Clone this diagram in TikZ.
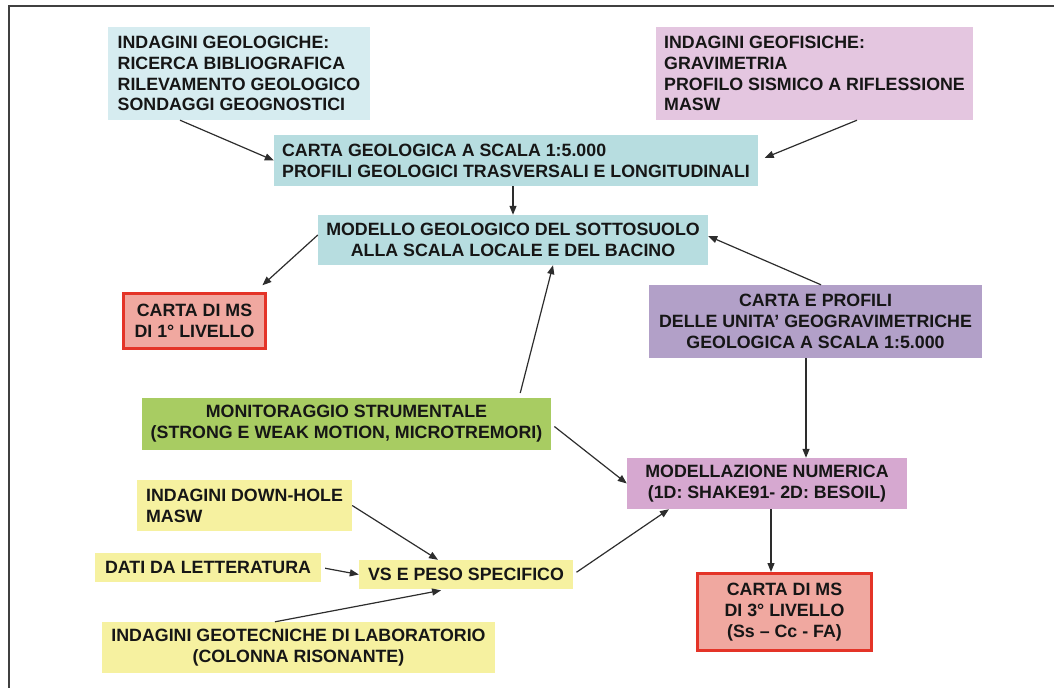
\documentclass[tikz,border=0pt]{standalone}
\usepackage{fontspec}
\setmainfont{Liberation Sans}
\definecolor{geoblue}{RGB}{214, 236, 240}
\definecolor{mapblue}{RGB}{183, 221, 224}
\definecolor{geopink}{RGB}{228, 198, 224}
\definecolor{profpurple}{RGB}{178, 160, 200}
\definecolor{numpink}{RGB}{214, 168, 208}
\definecolor{monigreen}{RGB}{168, 204, 98}
\definecolor{dataylw}{RGB}{246, 241, 160}
\definecolor{msfill}{RGB}{240, 168, 160}
\definecolor{msred}{RGB}{228, 52, 40}
\definecolor{inktext}{RGB}{22, 22, 22}
\definecolor{linkgray}{RGB}{45, 45, 45}
\usetikzlibrary{arrows.meta}

\begin{document}
\begin{tikzpicture}[x=1pt, y=-1pt,
  box/.style={inner xsep=0pt, inner ysep=2pt, text=inktext, font=\fontsize{17.8}{20.8}\selectfont\bfseries},
  msbox/.style={box, fill=msfill, draw=msred, line width=3pt, align=center},
  link/.style={draw=linkgray, line width=1.2pt, -{Triangle[length=9pt, width=7pt]}}]
  \useasboundingbox (0,0) rectangle (1054,688);

  % frame
  \draw[line width=2pt, black!75] (1054,6) -- (9,6) -- (9,688);

  % surveys
  \node[box, fill=geoblue, align=left, minimum width=262pt, minimum height=93pt] (geol) at (239,73.5) {
    INDAGINI GEOLOGICHE:\\RICERCA BIBLIOGRAFICA\\RILEVAMENTO GEOLOGICO\\SONDAGGI GEOGNOSTICI
  };
  \node[box, fill=geopink, align=left, minimum width=317pt, minimum height=93pt] (geof) at (814.5,73.5) {
    INDAGINI GEOFISICHE:\\GRAVIMETRIA\\PROFILO SISMICO A RIFLESSIONE\\MASW
  };

  % geological map and model
  \node[box, fill=mapblue, align=left, minimum width=484pt, minimum height=51pt] (cartageo) at (516,160.5) {
    CARTA GEOLOGICA A SCALA 1:5.000\\PROFILI GEOLOGICI TRASVERSALI E LONGITUDINALI
  };
  \node[box, fill=mapblue, align=center, minimum width=390pt, minimum height=50pt] (modello) at (513,240) {
    MODELLO GEOLOGICO DEL SOTTOSUOLO\\ALLA SCALA LOCALE E DEL BACINO
  };
  \node[msbox, minimum width=142pt, minimum height=55pt] (msuno) at (194.5,321) {
    CARTA DI MS\\DI 1° LIVELLO
  };
  \node[box, fill=profpurple, align=center, minimum width=333pt, minimum height=73pt] (profili) at (815.5,321.5) {
    CARTA E PROFILI\\DELLE UNITA’ GEOGRAVIMETRICHE\\GEOLOGICA A SCALA 1:5.000
  };

  % monitoring and modelling
  \node[box, fill=monigreen, align=center, minimum width=409pt, minimum height=52pt] (monit) at (346.5,424) {
    MONITORAGGIO STRUMENTALE\\(STRONG E WEAK MOTION, MICROTREMORI)
  };
  \node[box, fill=numpink, align=center, minimum width=280pt, minimum height=51pt] (modnum) at (767,483.5) {
    MODELLAZIONE NUMERICA\\(1D: SHAKE91- 2D: BESOIL)
  };
  \node[msbox, minimum width=174pt, minimum height=77pt] (mstre) at (784.5,612) {
    CARTA DI MS\\DI 3° LIVELLO\\(Ss – Cc - FA)
  };

  % soil data
  \node[box, fill=dataylw, align=left, minimum width=215pt, minimum height=51pt] (downhole) at (244.5,505.5) {
    INDAGINI DOWN-HOLE\\MASW
  };
  \node[box, fill=dataylw, minimum width=226pt, minimum height=29pt] (dati) at (208,567.5) {DATI DA LETTERATURA};
  \node[box, fill=dataylw, minimum width=214pt, minimum height=29pt] (vs) at (466,574.5) {VS E PESO SPECIFICO};
  \node[box, fill=dataylw, align=center, minimum width=393pt, minimum height=51pt] (geotec) at (298.5,647.5) {
    INDAGINI GEOTECNICHE DI LABORATORIO\\(COLONNA RISONANTE)
  };

  % links
  \draw[link] ([xshift=-59pt]geol.south) -- (cartageo.west);
  \draw[link, shorten >=7pt] ([xshift=42.5pt]geof.south) -- (cartageo.east);
  \draw[link] (cartageo.south -| modello.north) -- (modello.north);
  \draw[link, shorten >=10pt] ([yshift=5pt]modello.west) -- ([xshift=-12pt]msuno.north east);
  \draw[link] ([xshift=5.5pt]profili.north) -- ([yshift=4pt]modello.east);
  \draw[link, shorten <=5pt] ([xshift=172.5pt]monit.north) -- ([xshift=40pt]modello.south);
  \draw[link, shorten <=4pt] (monit.east) -- (modnum.west);
  \draw[link] ([xshift=-9.5pt]profili.south) -- ([xshift=-9.5pt]profili.south |- modnum.north);
  \draw[link] ([xshift=4pt]modnum.south) -- ([xshift=4pt]modnum.south |- mstre.north);
  \draw[link, shorten <=4pt] (vs.east) -- ([xshift=-98pt]modnum.south);
  \draw[link] (downhole.east) -- ([xshift=-28pt]vs.north);
  \draw[link, shorten <=4pt] (dati.east) -- (vs.west);
  \draw[link, shorten >=6pt] ([xshift=-23.5pt]geotec.north) -- ([xshift=-19pt]vs.south);
\end{tikzpicture}
\end{document}
